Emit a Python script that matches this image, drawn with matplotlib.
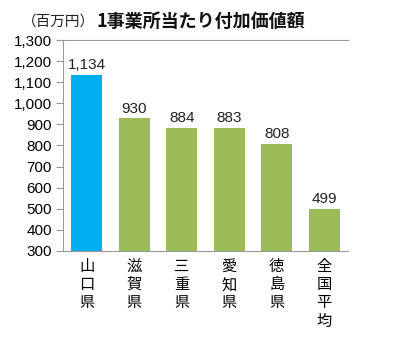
import matplotlib
matplotlib.use("Agg")
import matplotlib.pyplot as plt

plt.rcParams['font.family'] = ['Noto Sans CJK JP', 'DejaVu Sans']

categories = ["山口県", "滋賀県", "三重県", "愛知県", "徳島県", "全国平均"]
values = [1134, 930, 884, 883, 808, 499]
colors = ["#00B0F0", "#9BBB59", "#9BBB59", "#9BBB59", "#9BBB59", "#9BBB59"]
yticks = list(range(300, 1301, 100))

fig = plt.figure(figsize=(4.0, 3.48), dpi=100)
ax = fig.add_axes([0.1575, 0.279, 0.7125, 0.606])

x = list(range(len(categories)))
ax.bar(x, values, width=0.66, color=colors, zorder=2)
for xi, v in zip(x, values):
    ax.text(xi, v + 12, f"{v:,}", ha="center", va="bottom", fontsize=11,
            family=['Liberation Sans', 'DejaVu Sans'], color="#222222")

ax.set_xlim(-0.5, len(categories) - 0.5)
ax.set_ylim(300, 1300)
ax.set_yticks(yticks)
ax.set_yticklabels([f"{t:,}" for t in yticks], family=['Liberation Sans', 'DejaVu Sans'], fontsize=11)
ax.axhline(1300, color="#999999", lw=0.8, clip_on=False)
ax.plot([-0.5 - 0.018 * 6, -0.5], [1300, 1300], color="#999999", lw=0.8, clip_on=False)

ax.set_xticks(x)
ax.set_xticklabels(["\n".join(c) for c in categories], fontsize=11, linespacing=1.1, va="top")
ax.tick_params(axis='x', length=0, pad=5)
ax.tick_params(axis='y', length=5, color="#999999", width=0.8, pad=3)

for s in ["top", "right"]:
    ax.spines[s].set_visible(False)
for s in ["left", "bottom"]:
    ax.spines[s].set_color("#999999")
    ax.spines[s].set_linewidth(0.8)

fig.text(0.055, 0.937, "（百万円）", fontsize=10.5, va="center", ha="left", color="#222222")
fig.text(0.24, 0.937, "1事業所当たり付加価値額", fontsize=13, va="center", ha="left",
         fontweight="bold", color="#111111")

fig.savefig("out.png", dpi=100)
